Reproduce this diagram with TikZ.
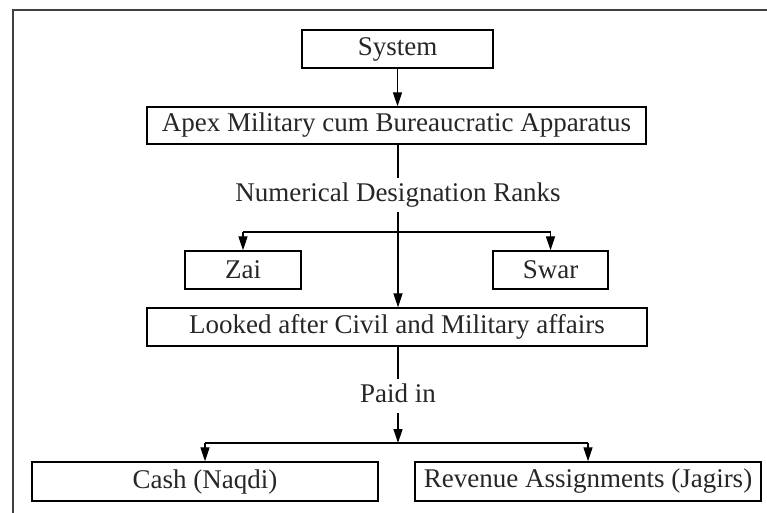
\documentclass[tikz,border=0pt]{standalone}
\usepackage{fontspec}
\setmainfont{Liberation Serif}
\usetikzlibrary{arrows.meta}
\tikzset{
  box/.style={draw, line width=1.4pt, inner sep=0pt, font=\mytext, text=black!85},
  lbl/.style={inner xsep=2pt, inner ysep=5pt, font=\mytext, text=black!85, text height=18pt, text depth=6pt},
  conn/.style={line width=1.3pt},
  arr/.style={conn, -{Triangle[length=14pt,width=9pt]}},
  frame/.style={line width=2.8pt, draw=black!75}
}
\newcommand{\mytext}{\fontsize{27}{31}\selectfont}
\begin{document}
\begin{tikzpicture}[x=1pt,y=1pt]
\useasboundingbox (0,0) rectangle (767,-512);
\draw[frame] (13,-513) -- (13,-10) -- (768,-10);
\node[box, minimum width=191pt, minimum height=38pt] (sys) at (397.5,-49) {System};
\node[box, minimum width=499pt, minimum height=37pt] (apex) at (396.5,-125.5) {Apex Military cum Bureaucratic Apparatus};
\node[lbl] (ndr) at (398,-195) {Numerical Designation Ranks};
\node[box, minimum width=116pt, minimum height=38pt] (zai) at (243,-270) {Zai};
\node[box, minimum width=115pt, minimum height=38pt] (swar) at (550.5,-270) {Swar};
\node[box, minimum width=500pt, minimum height=38pt] (looked) at (397,-327) {Looked after Civil and Military affairs};
\node[lbl] (paid) at (398,-396) {Paid in};
\node[box, minimum width=346pt, minimum height=39pt] (cash) at (205,-481.5) {Cash (Naqdi)};
\node[box, minimum width=346pt, minimum height=39pt] (rev) at (588,-481.5) {Revenue Assignments (Jagirs)};
\coordinate (b1) at (398,-232);
\coordinate (b2) at (398,-443);
\draw[arr] (sys.south) -- (sys.south |- apex.north);
\draw[conn] (apex.south -| ndr.north) -- (ndr.north);
\draw[arr] (ndr.south) -- (ndr.south |- looked.north);
\draw[conn] (b1 -| zai.north) -- (b1 -| swar.north);
\draw[arr] (b1 -| zai.north) -- (zai.north);
\draw[arr] (b1 -| swar.north) -- (swar.north);
\draw[conn] (looked.south -| paid.north) -- (paid.north);
\draw[arr] (paid.south) -- (b2);
\draw[conn] (b2 -| cash.north) -- (b2 -| rev.north);
\draw[arr] (b2 -| cash.north) -- (cash.north);
\draw[arr] (b2 -| rev.north) -- (rev.north);
\end{tikzpicture}
\end{document}
